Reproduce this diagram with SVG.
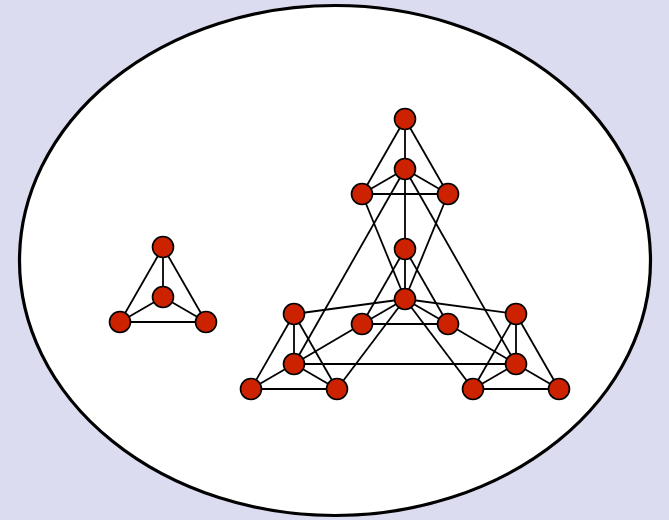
<svg xmlns="http://www.w3.org/2000/svg" width="669" height="520" viewBox="0 0 669 520">
<style>
.e line{stroke:#000;stroke-width:1.8;fill:none}
.n circle{fill:#cc2200;stroke:#000;stroke-width:1.6}
</style>
<rect x="0" y="0" width="669" height="520" fill="#dcdcf0"/>
<ellipse cx="335" cy="260.5" rx="315.5" ry="255" fill="#fff" stroke="#000" stroke-width="3.2"/>
<g id="connectors" class="e">
<!-- small K4 -->
<line x1="163" y1="247" x2="163" y2="297"/>
<line x1="163" y1="247" x2="120" y2="322"/>
<line x1="163" y1="247" x2="206" y2="322"/>
<line x1="163" y1="297" x2="120" y2="322"/>
<line x1="163" y1="297" x2="206" y2="322"/>
<line x1="120" y1="322" x2="206" y2="322"/>
<!-- top K4 -->
<line x1="405" y1="119" x2="405" y2="169"/>
<line x1="405" y1="119" x2="362" y2="194"/>
<line x1="405" y1="119" x2="448" y2="194"/>
<line x1="405" y1="169" x2="362" y2="194"/>
<line x1="405" y1="169" x2="448" y2="194"/>
<line x1="362" y1="194" x2="448" y2="194"/>
<!-- middle K4 -->
<line x1="405" y1="249" x2="405" y2="299"/>
<line x1="405" y1="249" x2="362" y2="324"/>
<line x1="405" y1="249" x2="448" y2="324"/>
<line x1="405" y1="299" x2="362" y2="324"/>
<line x1="405" y1="299" x2="448" y2="324"/>
<line x1="362" y1="324" x2="448" y2="324"/>
<!-- left K4 -->
<line x1="294" y1="314" x2="294" y2="364"/>
<line x1="294" y1="314" x2="251" y2="389"/>
<line x1="294" y1="314" x2="337" y2="389"/>
<line x1="294" y1="364" x2="251" y2="389"/>
<line x1="294" y1="364" x2="337" y2="389"/>
<line x1="251" y1="389" x2="337" y2="389"/>
<!-- right K4 -->
<line x1="516" y1="314" x2="516" y2="364"/>
<line x1="516" y1="314" x2="473" y2="389"/>
<line x1="516" y1="314" x2="559" y2="389"/>
<line x1="516" y1="364" x2="473" y2="389"/>
<line x1="516" y1="364" x2="559" y2="389"/>
<line x1="473" y1="389" x2="559" y2="389"/>
<!-- inter-group -->
<line x1="405" y1="169" x2="405" y2="249"/>
<line x1="405" y1="169" x2="294" y2="364"/>
<line x1="405" y1="169" x2="516" y2="364"/>
<line x1="294" y1="364" x2="516" y2="364"/>
<line x1="405" y1="299" x2="362" y2="194"/>
<line x1="405" y1="299" x2="448" y2="194"/>
<line x1="405" y1="299" x2="294" y2="314"/>
<line x1="405" y1="299" x2="516" y2="314"/>
<line x1="405" y1="299" x2="337" y2="389"/>
<line x1="405" y1="299" x2="473" y2="389"/>
<line x1="362" y1="324" x2="294" y2="364"/>
<line x1="448" y1="324" x2="516" y2="364"/>
</g>
<g class="n">
<g id="s0"><circle cx="163" cy="247" r="10.5"/></g>
<g id="s1"><circle cx="163" cy="297" r="10.5"/></g>
<g id="s2"><circle cx="120" cy="322" r="10.5"/></g>
<g id="s3"><circle cx="206" cy="322" r="10.5"/></g>
<g id="a0"><circle cx="405" cy="119" r="10.5"/></g>
<g id="a1"><circle cx="405" cy="169" r="10.5"/></g>
<g id="a2"><circle cx="362" cy="194" r="10.5"/></g>
<g id="a3"><circle cx="448" cy="194" r="10.5"/></g>
<g id="b0"><circle cx="405" cy="249" r="10.5"/></g>
<g id="b1"><circle cx="405" cy="299" r="10.5"/></g>
<g id="b2"><circle cx="362" cy="324" r="10.5"/></g>
<g id="b3"><circle cx="448" cy="324" r="10.5"/></g>
<g id="l0"><circle cx="294" cy="314" r="10.5"/></g>
<g id="l1"><circle cx="294" cy="364" r="10.5"/></g>
<g id="l2"><circle cx="251" cy="389" r="10.5"/></g>
<g id="l3"><circle cx="337" cy="389" r="10.5"/></g>
<g id="r0"><circle cx="516" cy="314" r="10.5"/></g>
<g id="r1"><circle cx="516" cy="364" r="10.5"/></g>
<g id="r2"><circle cx="473" cy="389" r="10.5"/></g>
<g id="r3"><circle cx="559" cy="389" r="10.5"/></g>
</g>
</svg>
